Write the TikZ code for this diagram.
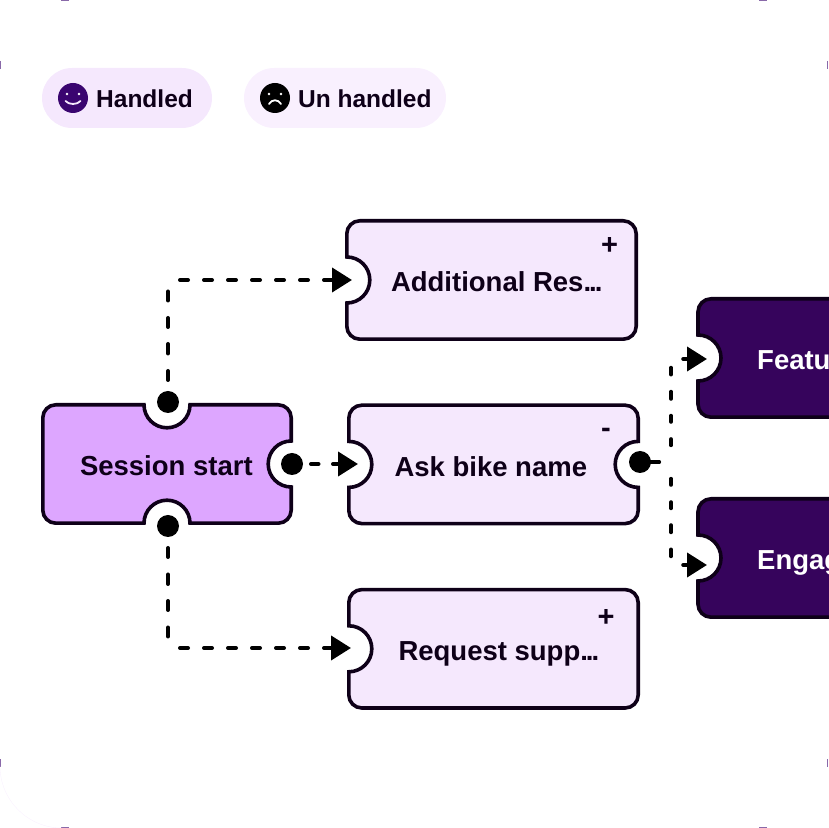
\documentclass[tikz,border=0pt]{standalone}
\usepackage{fontspec}
\setmainfont{Liberation Sans}
\usetikzlibrary{arrows.meta,positioning,calc,backgrounds}
\definecolor{Ink}{HTML}{0E0018}
\definecolor{Lilac}{HTML}{DDA6FF}
\definecolor{Pale}{HTML}{F5E8FD}
\definecolor{Paler}{HTML}{F9F0FE}
\definecolor{Plum}{HTML}{36045C}
\definecolor{Smile}{HTML}{3A0570}

\tikzset{
  ticket/.style={minimum width=#1,minimum height=118pt,inner sep=0pt},
  outline/.style={draw=Ink,line width=3.6pt},
  name text/.style={anchor=base west,inner sep=0pt,font=\bfseries\fontsize{27.5}{27.5}\selectfont,text=Ink},
  sign/.style={inner sep=0pt,font=\bfseries\fontsize{29}{29}\selectfont,text=Ink},
  pill/.style={rounded corners=30pt,minimum height=60pt,inner sep=0pt},
  pill text/.style={anchor=base west,inner sep=0pt,font=\bfseries\fontsize{24.5}{24.5}\selectfont,text=Ink},
  face/.style={circle,minimum size=30pt,inner sep=0pt},
  dot/.style={circle,fill=black,minimum size=22pt,inner sep=0pt},
  flow/.style={draw=black,line width=4pt,line cap=round,rounded corners=8pt,
    -{Triangle[length=20pt,width=24pt,fill=black]}},
  straight/.style={flow,dash pattern=on 0pt off 19pt on 7.5pt off 14.5pt on 30pt off 10pt},
  elbow/.style={flow,dash pattern=on 0pt off 22pt on 9pt off 17.5pt on 9.5pt off 17pt on 9pt off 17.5pt on 9pt off 20pt
    on 8pt off 16pt on 8pt off 16pt on 8pt off 16pt on 8pt off 16pt on 8pt off 16pt on 8pt off 16pt on 30pt off 10pt},
  branch/.style={flow,dash pattern=on 19pt off 25.3pt on 6pt off 17.4pt on 6pt off 17pt on 7pt off 17.3pt on 6.7pt off 17.5pt on 20pt off 10pt}
}

% ticket with one inlet on the left
\newcommand{\inletbox}[2]{
  \begin{scope}[on background layer]
    \draw[outline,fill=#2] ($(#1.west)+(0,23)$) [rounded corners=13pt]
      -- (#1.north west) -- (#1.north east) -- (#1.south east) -- (#1.south west) [sharp corners]
      -- ($(#1.west)+(0,-23)$)
      arc[start angle=-90,end angle=90,radius=23pt] -- cycle;
  \end{scope}
}

\begin{document}
\begin{tikzpicture}[x=1pt,y=1pt]
  \clip (0,0) rectangle (828,828);

  % specks left on the page corners
  \foreach \x/\y/\u/\v in {61/827.5/69/827.5,0.5/767/0.5/759,61/0.5/69/0.5,0.5/61/0.5/69,
      759/827.5/767/827.5,827.5/767/827.5/759,759/0.5/767/0.5,827.5/61/827.5/69}
    \draw[Smile!60,line width=1pt] (\x,\y) -- (\u,\v);
  \draw[Pale!60,line width=.4pt] (0,62) arc[start angle=180,end angle=270,radius=62pt];

  % legend
  \node[pill,fill=Pale,minimum width=170pt] (handled) at (127,730) {};
  \node[pill,fill=Paler,minimum width=202pt] (unhandled) at (345,730) {};
  \node[face,fill=Smile] (happy) at (73,730) {};
  \node[face,fill=black] (sad) at (275,730) {};
  \fill[white] (67,734) circle (1.3) (79,734) circle (1.3);
  \draw[Pale,line width=1.8pt,line cap=round] (65.5,727) .. controls (69,723) and (77,723) .. (80.5,727);
  \fill[white] (269,734) circle (1.3) (281,734) circle (1.3);
  \draw[white,line width=1.8pt,line cap=round] (269,724) .. controls (272,729) and (278,729) .. (281,724);
  \node[pill text] (handledtext) at (96,720.7) {Handled};
  \node[pill text] (unhandledtext) at (298,720.7) {Un handled};

  % tickets
  \node[ticket=248pt] (session) at (167,364) {};
  \node[ticket=289pt] (resources) at (491.5,548) {};
  \node[ticket=289pt,below=66pt of resources.south,anchor=north,xshift=2pt] (bike) {};
  \node[ticket=289pt,below=66pt of bike.south,anchor=north] (support) {};
  \node[ticket=289pt,anchor=west] (features) at (698,470) {};
  \node[ticket=289pt,anchor=west] (engage) at (698,270) {};

  \begin{scope}[on background layer]
    % start ticket, notched on three sides
    \draw[outline,fill=Lilac] ($(session.north)+(-23,0)$)
      arc[start angle=180,end angle=360,radius=23pt]
      -- ++(1,0) [rounded corners=13pt] -- (session.north east) [sharp corners] -- ($(session.east)+(0,23)$)
      arc[start angle=90,end angle=270,radius=23pt]
      -- ++(0,-1) [rounded corners=13pt] -- (session.south east) [sharp corners] -- ($(session.south)+(23,0)$)
      arc[start angle=0,end angle=180,radius=23pt]
      -- ++(-1,0) [rounded corners=13pt] -- (session.south west) -- (session.north west) [sharp corners] -- cycle;
    % middle ticket, notched left and right
    \draw[outline,fill=Pale] ($(bike.west)+(0,23)$) [rounded corners=13pt]
      -- (bike.north west) -- (bike.north east) [sharp corners] -- ($(bike.east)+(0,23)$)
      arc[start angle=90,end angle=270,radius=23pt]
      -- ++(0,-1) [rounded corners=13pt] -- (bike.south east) -- (bike.south west) [sharp corners] -- ($(bike.west)+(0,-23)$)
      arc[start angle=-90,end angle=90,radius=23pt] -- cycle;
  \end{scope}
  \inletbox{resources}{Pale}
  \inletbox{support}{Pale}
  \inletbox{features}{Plum}
  \inletbox{engage}{Plum}

  \node[name text] (sessiontext) at ([xshift=37pt,yshift=-12pt]session.west) {Session start};
  \node[name text] (resourcestext) at ([xshift=44pt,yshift=-12pt]resources.west) {Additional Res.\kern-2pt.\kern-2pt.};
  \node[name text] (biketext) at ([xshift=45.5pt,yshift=-12pt]bike.west) {Ask bike name};
  \node[name text] (supporttext) at ([xshift=49.5pt,yshift=-12pt]support.west) {Request supp.\kern-2pt.\kern-2pt.};
  \node[name text,text=white] (featurestext) at ([xshift=59pt,yshift=-12pt]features.west) {Featu};
  \node[name text,text=white] (engagetext) at ([xshift=59pt,yshift=-12pt]engage.west) {Engag};

  \node[sign] (resourcessign) at (609.5,582) {+};
  \node[sign] (bikesign) at (606,395) {-};
  \node[sign] (supportsign) at (606,210) {+};

  % connector ends
  \node[dot] (outtop) at (168,426) {};
  \node[dot] (outright) at (292,364) {};
  \node[dot] (outbottom) at (168,302) {};
  \node[dot] (outbike) at (640,366) {};
  \coordinate (inresources) at (352,548);
  \coordinate (inbike) at (358,364);
  \coordinate (insupport) at (351,180);
  \coordinate (infeatures) at (707,469);
  \coordinate (inengage) at (707,263);

  \draw[elbow] (outtop.center) |- (inresources);
  \draw[straight] (outright.center) -- (inbike);
  \draw[elbow] (outbottom.center) |- (insupport);
  \foreach \u in {infeatures,inengage}
    \draw[branch] (outbike.center) -- (671,366) |- (\u);
\end{tikzpicture}
\end{document}
